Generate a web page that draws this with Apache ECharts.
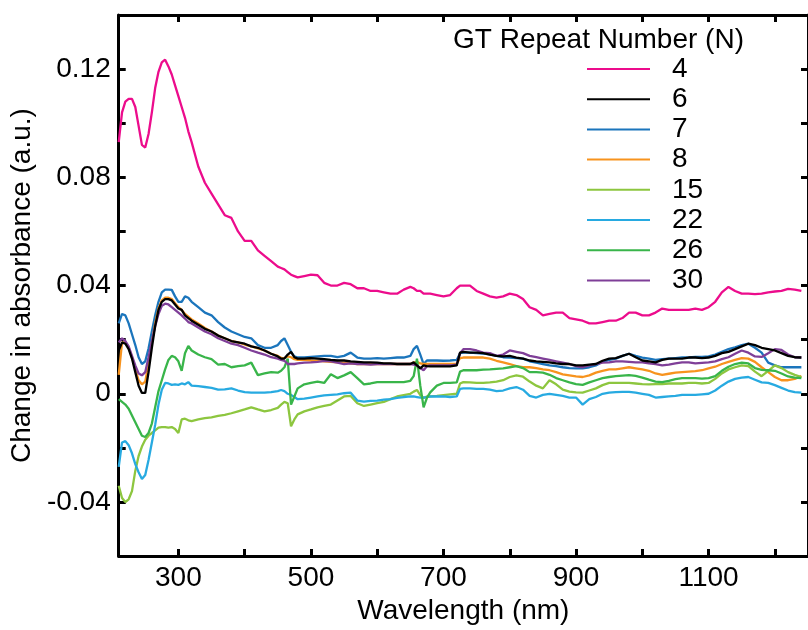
<!DOCTYPE html>
<html>
<head>
<meta charset="utf-8">
<script src="https://cdn.jsdelivr.net/npm/echarts@6/dist/echarts.min.js"></script>
<style>html,body{margin:0;padding:0;background:#fff;}#c{width:808px;height:630px;}</style>
</head>
<body>
<div id="c"></div>
<script>
// Wavelength grid (nm)
const wavelengths = [210,215,220,225,230,235,240,245,250,255,260,265,270,275,280,285,290,295,300,305,310,315,320,
330,340,350,360,370,380,390,400,410,420,430,440,450,455,460,465,470,475,480,490,500,510,520,530,540,550,560,570,580,590,600,610,620,630,640,650,655,660,665,670,675,680,690,700,710,720,725,730,
740,750,760,770,780,790,800,810,820,830,840,850,860,870,880,890,900,910,920,930,940,950,960,970,980,990,1000,1010,1020,1030,1040,1050,1060,1070,1080,1090,1100,1110,1120,1130,1140,1150,1160,1170,1180,1190,1200,1210,1220,1230,1240];

const n4 = [0.093,0.104,0.108,0.109,0.109,0.106,0.099,0.092,0.091,0.096,0.104,0.113,0.119,0.1225,0.1235,0.121,0.118,0.114,0.110,0.106,0.102,0.097,0.093,
0.084,0.078,0.074,0.070,0.066,0.065,0.060,0.0565,0.0565,0.053,0.051,0.049,0.047,0.0465,0.046,0.045,0.044,0.0435,0.043,0.0435,0.044,0.0438,0.041,0.040,0.040,0.041,0.0405,0.039,0.039,0.038,0.038,0.0375,0.037,0.037,0.0385,0.0395,0.039,0.038,0.038,0.037,0.037,0.037,0.0365,0.036,0.0365,0.039,0.040,0.040,
0.040,0.038,0.037,0.036,0.0355,0.036,0.037,0.0365,0.035,0.032,0.031,0.029,0.0295,0.030,0.030,0.028,0.0275,0.027,0.026,0.026,0.0265,0.027,0.027,0.028,0.030,0.030,0.029,0.029,0.030,0.0315,0.031,0.031,0.031,0.031,0.0315,0.031,0.032,0.034,0.0375,0.0395,0.038,0.037,0.037,0.0368,0.037,0.0375,0.0378,0.038,0.0388,0.0385,0.038];

const n6 = [0.016,0.019,0.0185,0.0165,0.013,0.008,0.003,0.0003,0.0003,0.008,0.017,0.025,0.031,0.034,0.035,0.035,0.0345,0.033,0.0315,0.031,0.029,0.028,0.027,
0.0255,0.024,0.023,0.0215,0.0205,0.0195,0.019,0.0185,0.0175,0.017,0.016,0.0148,0.0138,0.013,0.013,0.0145,0.0155,0.0135,0.013,0.013,0.0132,0.013,0.0128,0.0125,0.0123,0.0123,0.012,0.0118,0.0116,0.0116,0.0115,0.0112,0.0112,0.011,0.011,0.011,0.0116,0.0105,0.0094,0.0105,0.0102,0.0101,0.0101,0.0101,0.0101,0.0105,0.0152,0.0155,
0.0152,0.0152,0.015,0.0145,0.014,0.0138,0.014,0.0134,0.013,0.0123,0.012,0.0118,0.0116,0.0112,0.011,0.011,0.0105,0.0105,0.0108,0.011,0.0122,0.013,0.0132,0.014,0.0148,0.0135,0.0123,0.012,0.0116,0.0125,0.013,0.013,0.013,0.0134,0.0134,0.0132,0.0134,0.014,0.015,0.0155,0.0165,0.0175,0.0185,0.018,0.017,0.0165,0.016,0.015,0.014,0.0135,0.0134];

const n7 = [0.026,0.0295,0.029,0.026,0.022,0.018,0.0135,0.011,0.012,0.0167,0.023,0.029,0.034,0.0375,0.0385,0.0385,0.0384,0.036,0.034,0.034,0.036,0.0355,0.034,
0.032,0.030,0.029,0.0265,0.0245,0.023,0.022,0.021,0.0205,0.018,0.017,0.017,0.018,0.0195,0.0205,0.018,0.0155,0.0138,0.0134,0.0134,0.0136,0.0138,0.014,0.014,0.0135,0.014,0.0152,0.0134,0.013,0.013,0.0132,0.013,0.0132,0.0134,0.0134,0.014,0.0165,0.0177,0.0145,0.011,0.0123,0.0123,0.0123,0.0122,0.0123,0.0125,0.015,0.0152,
0.0152,0.015,0.0148,0.0146,0.014,0.0135,0.0134,0.0132,0.013,0.012,0.0115,0.011,0.0105,0.0102,0.0098,0.0095,0.0094,0.0094,0.0098,0.0105,0.0118,0.0125,0.013,0.014,0.0148,0.014,0.0134,0.013,0.0125,0.0128,0.013,0.0132,0.0134,0.0134,0.0136,0.0136,0.0138,0.0145,0.0155,0.0165,0.0172,0.018,0.0185,0.017,0.0152,0.0115,0.0105,0.0098,0.0098,0.0098,0.0098];

const n8 = [0.007,0.019,0.019,0.017,0.0135,0.009,0.005,0.0035,0.0045,0.011,0.019,0.026,0.0315,0.0345,0.0355,0.0355,0.035,0.0335,0.032,0.031,0.0295,0.0285,0.0275,
0.026,0.0243,0.023,0.0215,0.0205,0.0195,0.019,0.0182,0.0175,0.0168,0.016,0.0148,0.014,0.0133,0.0132,0.0138,0.0135,0.0128,0.0125,0.0125,0.0123,0.0122,0.012,0.0118,0.0116,0.0114,0.0112,0.011,0.011,0.011,0.011,0.011,0.011,0.011,0.011,0.011,0.0115,0.0118,0.0112,0.011,0.011,0.011,0.011,0.011,0.011,0.011,0.0132,0.0134,
0.0134,0.0134,0.0134,0.013,0.0122,0.0116,0.011,0.0102,0.0098,0.0098,0.0095,0.009,0.0087,0.008,0.0072,0.0068,0.0064,0.0062,0.0068,0.0078,0.0085,0.009,0.009,0.0094,0.0098,0.0094,0.009,0.0085,0.0075,0.007,0.0074,0.0078,0.008,0.0082,0.0084,0.0087,0.0094,0.010,0.011,0.0118,0.0125,0.0132,0.013,0.0118,0.0098,0.008,0.0062,0.005,0.005,0.0055,0.0065];

const n15 = [-0.034,-0.0385,-0.040,-0.039,-0.036,-0.0285,-0.023,-0.0195,-0.017,-0.0155,-0.0145,-0.0135,-0.0125,-0.0123,-0.0123,-0.0125,-0.0123,-0.013,-0.0145,-0.0095,-0.0092,-0.0098,-0.0101,
-0.0095,-0.009,-0.0087,-0.0082,-0.0078,-0.0072,-0.0065,-0.0058,-0.005,-0.0058,-0.0065,-0.006,-0.0052,-0.004,-0.003,-0.0035,-0.012,-0.0095,-0.0076,-0.0065,-0.0058,-0.005,-0.0045,-0.004,-0.0025,-0.001,-0.0008,-0.0035,-0.0045,-0.004,-0.0035,-0.003,-0.002,-0.001,-0.0005,0.0,0.0008,0.0014,-0.0005,-0.0015,-0.001,-0.001,-0.0008,-0.0005,-0.0002,0.0,0.0038,0.0043,
0.0042,0.004,0.004,0.0042,0.0045,0.005,0.0062,0.0068,0.0063,0.0045,0.003,0.002,0.005,0.0035,0.0015,0.0008,0.0005,0.0004,0.0012,0.002,0.0032,0.004,0.004,0.004,0.004,0.0038,0.0036,0.0035,0.0036,0.0036,0.0038,0.0038,0.0038,0.004,0.004,0.0038,0.004,0.0055,0.0075,0.009,0.0098,0.0105,0.0102,0.0082,0.0065,0.0085,0.0105,0.0095,0.008,0.007,0.0062];

const n22 = [-0.027,-0.018,-0.0175,-0.019,-0.022,-0.026,-0.029,-0.0315,-0.030,-0.0245,-0.018,-0.0115,-0.004,0.0015,0.004,0.0038,0.0033,0.0035,0.0033,0.0038,0.0035,0.0043,0.003,
0.0028,0.0025,0.0022,0.0015,0.0016,0.002,0.0012,0.0006,0.0004,0.0004,0.0004,0.0006,0.001,0.0014,0.001,0.0,-0.0004,-0.0012,-0.002,-0.0018,-0.0014,-0.001,-0.0006,-0.0004,-0.0002,0.0002,0.0004,-0.0025,-0.0029,-0.0026,-0.0025,-0.0022,-0.002,-0.0015,-0.0012,-0.001,-0.001,-0.0012,-0.0014,-0.0014,-0.0012,-0.001,-0.001,-0.001,-0.0012,-0.001,0.0018,0.002,
0.002,0.0018,0.0018,0.0015,0.001,0.0012,0.002,0.0025,0.0015,-0.0008,-0.0014,-0.0004,0.0,-0.0004,-0.0008,-0.0014,-0.0014,-0.004,-0.002,-0.0012,0.0,0.0004,0.0006,0.0007,0.0007,0.0004,0.0,-0.0004,-0.0014,-0.0012,-0.001,-0.0008,-0.0004,-0.0004,-0.0004,-0.0002,0.0,0.0012,0.003,0.0045,0.0055,0.006,0.0062,0.0052,0.0042,0.004,0.0032,0.0022,0.0012,0.0006,0.0004];

const n26 = [-0.002,-0.003,-0.004,-0.0055,-0.008,-0.0105,-0.013,-0.0155,-0.016,-0.0145,-0.011,-0.005,0.001,0.005,0.009,0.0125,0.014,0.0135,0.012,0.0085,0.015,0.0177,0.016,
0.0145,0.0135,0.0128,0.0108,0.011,0.0098,0.0102,0.0105,0.0115,0.0069,0.0075,0.008,0.0078,0.0085,0.0098,0.013,-0.004,-0.001,0.002,0.0035,0.004,0.0045,0.004,0.0072,0.0058,0.0068,0.008,0.0058,0.0035,0.0038,0.0043,0.0043,0.0043,0.0043,0.0043,0.0048,0.0065,0.013,0.003,-0.005,-0.0015,0.0005,0.003,0.004,0.004,0.0042,0.0082,0.0087,
0.0087,0.0087,0.0089,0.009,0.0092,0.0094,0.0098,0.0102,0.0095,0.008,0.008,0.0078,0.007,0.0058,0.005,0.0042,0.0036,0.0033,0.0042,0.005,0.0058,0.0062,0.0065,0.0067,0.0069,0.0066,0.006,0.0052,0.0045,0.0043,0.0048,0.0054,0.0058,0.0058,0.0058,0.0056,0.0058,0.0065,0.0085,0.010,0.011,0.0115,0.0112,0.0095,0.0088,0.0087,0.0085,0.0075,0.0064,0.006,0.0058];

const n30 = [0.019,0.0205,0.0195,0.0175,0.014,0.0105,0.0075,0.0068,0.008,0.0135,0.0195,0.025,0.0295,0.0325,0.0333,0.033,0.032,0.031,0.030,0.029,0.0278,0.0265,0.026,
0.0245,0.023,0.022,0.0205,0.0195,0.0185,0.018,0.017,0.016,0.0152,0.0145,0.0135,0.013,0.0125,0.0122,0.011,0.011,0.011,0.0112,0.0115,0.0116,0.0118,0.0122,0.012,0.0115,0.011,0.0112,0.011,0.011,0.0108,0.011,0.011,0.011,0.011,0.011,0.011,0.0108,0.0105,0.0095,0.0087,0.0102,0.0105,0.0105,0.0105,0.0105,0.0108,0.015,0.0165,
0.0165,0.016,0.0152,0.015,0.014,0.0145,0.016,0.0155,0.015,0.014,0.0135,0.013,0.0125,0.012,0.0115,0.011,0.0102,0.0098,0.0105,0.011,0.0115,0.0116,0.012,0.012,0.0118,0.0116,0.0116,0.0112,0.011,0.0105,0.0108,0.0112,0.0116,0.0116,0.0112,0.0114,0.0116,0.012,0.0128,0.0135,0.0148,0.016,0.0152,0.0138,0.0136,0.015,0.0165,0.0162,0.0145,0.0135,0.0134];

const seriesNames = ['4','6','7','8','15','22','26','30'];
const seriesValues = [n4,n6,n7,n8,n15,n22,n26,n30];
const seriesColors = ['#EC0C8C','#000000','#1B75BC','#F7931E','#8DC63F','#27AAE1','#39B54A','#7F3F98'];

const xTicks = [300,400,500,600,700,800,900,1000,1100,1200];
const xLabels = [300,500,700,900,1100];
const yTicks = [-0.06,-0.04,-0.02,0,0.02,0.04,0.06,0.08,0.1,0.12,0.14];
const yLabels = [-0.04,0,0.04,0.08,0.12];

const FONT = 'Liberation Sans, Arial, Helvetica, sans-serif';
const chart = echarts.init(document.getElementById('c'), null, {renderer:'canvas'});

const zOrder = {'4':2,'6':9,'7':3,'8':4,'15':5,'22':6,'26':7,'30':8};
const series = seriesNames.map((name, i) => ({
  name: name,
  type: 'line',
  data: wavelengths.map((w, j) => [w, seriesValues[i][j]]),
  showSymbol: false,
  symbol: 'none',
  z: zOrder[name],
  lineStyle: {color: seriesColors[i], width: 2.3},
  itemStyle: {color: seriesColors[i]},
  clip: true,
  silent: true
}));

const axisLineStyle = {show: true, onZero: false, lineStyle: {color: '#000', width: 3}};
const tickStyle = {show: true, inside: true, length: 7, lineStyle: {color: '#000', width: 3}};
const plain = v => String(v);

chart.setOption({
  animation: false,
  backgroundColor: '#fff',
  title: {
    text: 'GT Repeat Number (N)',
    left: 448, top: 21,
    textStyle: {fontFamily: FONT, fontSize: 28, fontWeight: 'normal', color: '#000'}
  },
  legend: {
    orient: 'vertical',
    left: 582, top: 49,
    itemWidth: 63, itemHeight: 14, itemGap: 0.2,
    icon: 'path://M0,6 L63,6 L63,8 L0,8 Z',
    data: seriesNames,
    textStyle: {fontFamily: FONT, fontSize: 28, color: '#000', lineHeight: 30, padding: [0,0,0,17]}
  },
  grid: {left: 118, top: 15, width: 694, height: 550, containLabel: false},
  xAxis: [{
    type: 'value', min: 210, max: 1250, position: 'bottom',
    name: 'Wavelength (nm)', nameLocation: 'middle', nameGap: 31,
    nameTextStyle: {fontFamily: FONT, fontSize: 28, color: '#000'},
    axisLine: axisLineStyle,
    axisTick: Object.assign({customValues: xTicks}, tickStyle),
    axisLabel: {customValues: xLabels, formatter: plain, fontFamily: FONT, fontSize: 28, color: '#000', margin: 8},
    splitLine: {show: false}
  },{
    type: 'value', min: 210, max: 1250, position: 'top',
    axisLine: axisLineStyle,
    axisTick: Object.assign({customValues: xTicks}, tickStyle),
    axisLabel: {show: false},
    splitLine: {show: false}
  }],
  yAxis: [{
    type: 'value', min: -0.06, max: 0.14, position: 'left',
    name: 'Change in absorbance (a.u.)', nameLocation: 'middle', nameGap: 80,
    nameTextStyle: {fontFamily: FONT, fontSize: 28, color: '#000'},
    axisLine: axisLineStyle,
    axisTick: Object.assign({customValues: yTicks}, tickStyle),
    axisLabel: {customValues: yLabels, formatter: plain, fontFamily: FONT, fontSize: 28, color: '#000', margin: 8},
    splitLine: {show: false}
  },{
    type: 'value', min: -0.06, max: 0.14, position: 'right',
    axisLine: axisLineStyle,
    axisTick: Object.assign({customValues: yTicks}, tickStyle),
    axisLabel: {show: false},
    splitLine: {show: false}
  }],
  series: series
});
</script>
</body>
</html>
